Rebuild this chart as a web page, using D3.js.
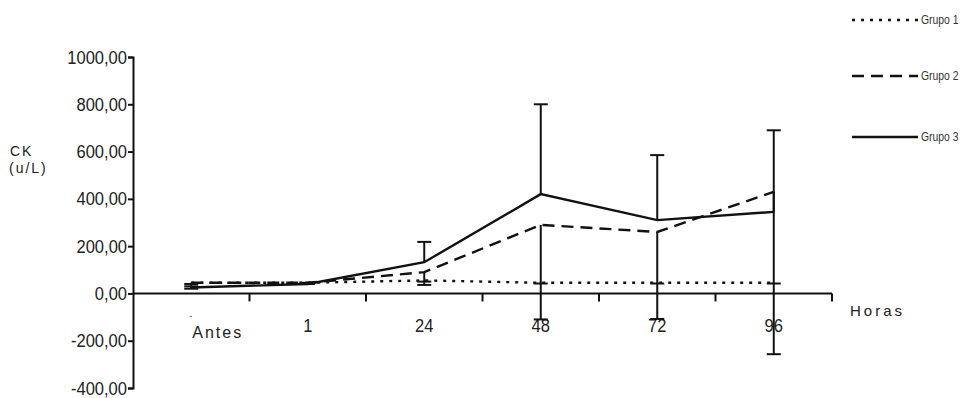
<!DOCTYPE html>
<html>
<head>
<meta charset="utf-8">
<script src="https://cdn.jsdelivr.net/npm/d3@7"></script>
<style>
  body { margin: 0; background: #fff; }
  svg { display: block; }
</style>
</head>
<body>
<div id="chart"></div>
<script>
const categories = ["Antes", "1", "24", "48", "72", "96"];
const yTicks = [-400, -200, 0, 200, 400, 600, 800, 1000];

const grupo1 = [45, 45, 55, 45, 45, 45];
const grupo2 = [45, 45, 90, 290, 260, 430];
const grupo3 = [25, 40, 132, 420, 310, 345];

// error bars as drawn: grupo 3 upward, grupo 2 downward, grupo 1 tiny
const grupo3Upper = [30, 45, 218, 800, 585, 690];
const grupo2Lower = [20, 40, 36, -110, -108, -257];
const grupo1Lower = [40, 42, 50, 42, 42, 42];

const series = [
  { name: "Grupo 1", values: grupo1, dash: "3,6" },
  { name: "Grupo 2", values: grupo2, dash: "12,7" },
  { name: "Grupo 3", values: grupo3, dash: null },
];

const W = 963, H = 398;
const sans = "'Liberation Sans', Arial, sans-serif";
const squeeze = 0.87; // tick fonts in the original are condensed

const svg = d3.select("#chart").append("svg")
  .attr("width", W)
  .attr("height", H);

const x = d3.scaleBand().domain(categories).range([133, 832]);
const y = d3.scaleLinear().domain([-400, 1000]).range([388, 57]);
const cx = (d) => x(d) + x.bandwidth() / 2;

// Y-axis
const yAxis = svg.append("g")
  .attr("transform", "translate(133,0)")
  .call(d3.axisLeft(y).tickValues(yTicks).tickSize(5).tickPadding(2)
    .tickFormat((d) => d3.format(".2f")(d).replace(".", ",").replace("\u2212", "-")));
yAxis.select(".domain").attr("stroke", "#111").attr("stroke-width", 2);
yAxis.selectAll(".tick line").attr("stroke", "#111").attr("stroke-width", 2);
yAxis.selectAll("text")
  .attr("x", -6 / squeeze)
  .attr("transform", `scale(${squeeze},1)`)
  .attr("fill", "#222")
  .style("font-family", sans)
  .style("font-size", "19px");

// X-axis at zero, ticks on band edges
const xg = svg.append("g").attr("transform", `translate(0,${y(0)})`);
xg.append("line")
  .attr("x1", 133).attr("x2", 832)
  .attr("stroke", "#111").attr("stroke-width", 2);
xg.selectAll(".xtick")
  .data(categories)
  .enter()
  .append("line")
  .attr("class", "xtick")
  .attr("x1", (d) => x(d) + x.bandwidth())
  .attr("x2", (d) => x(d) + x.bandwidth())
  .attr("y1", 0).attr("y2", 8)
  .attr("stroke", "#111").attr("stroke-width", 2);

// category labels
svg.selectAll(".xlabel")
  .data(categories.slice(1))
  .enter()
  .append("text")
  .attr("class", "xlabel")
  .attr("transform", `scale(${squeeze},1)`)
  .attr("x", (d) => cx(d) / squeeze)
  .attr("y", 332)
  .attr("text-anchor", "middle")
  .attr("fill", "#222")
  .style("font-family", sans)
  .style("font-size", "19px")
  .text((d) => d);

svg.append("text")
  .attr("x", cx("Antes") + 1)
  .attr("y", 338)
  .attr("fill", "#222")
  .style("font-family", sans)
  .style("font-size", "16px")
  .style("letter-spacing", "2px")
  .text(categories[0]);
svg.append("text")
  .attr("x", cx("Antes") - 2)
  .attr("y", 319)
  .attr("fill", "#444")
  .style("font-family", sans)
  .style("font-size", "9px")
  .text("-");

// Error bars
const capW = 14;
function errorBars(means, ends) {
  const g = svg.append("g");
  categories.forEach((c, i) => {
    g.append("line")
      .attr("x1", cx(c)).attr("x2", cx(c))
      .attr("y1", y(means[i])).attr("y2", y(ends[i]))
      .attr("stroke", "#111").attr("stroke-width", 2);
    g.append("line")
      .attr("x1", cx(c) - capW / 2).attr("x2", cx(c) + capW / 2)
      .attr("y1", y(ends[i])).attr("y2", y(ends[i]))
      .attr("stroke", "#111").attr("stroke-width", 2);
  });
}
errorBars(grupo3, grupo3Upper);
errorBars(grupo2, grupo2Lower);
errorBars(grupo1, grupo1Lower);

// Lines
const line = d3.line()
  .x((d, i) => cx(categories[i]))
  .y((d) => y(d));

svg.selectAll(".serie")
  .data(series)
  .enter()
  .append("path")
  .attr("class", "serie")
  .attr("d", (d) => line(d.values))
  .attr("fill", "none")
  .attr("stroke", "#111")
  .attr("stroke-width", 2.4)
  .attr("stroke-dasharray", (d) => d.dash);

// Axis titles
svg.append("text")
  .attr("x", 10).attr("y", 156)
  .attr("fill", "#222")
  .style("font-family", sans)
  .style("font-size", "14px")
  .style("letter-spacing", "2px")
  .text("CK");
svg.append("text")
  .attr("x", 9).attr("y", 173)
  .attr("fill", "#222")
  .style("font-family", sans)
  .style("font-size", "14px")
  .style("letter-spacing", "2px")
  .text("(u/L)");
svg.append("text")
  .attr("x", 850).attr("y", 316)
  .attr("fill", "#222")
  .style("font-family", sans)
  .style("font-size", "15px")
  .style("letter-spacing", "3px")
  .text("Horas");

// Legend
const legendY = [20, 76, 137];
const legend = svg.selectAll(".legend")
  .data(series)
  .enter()
  .append("g")
  .attr("class", "legend")
  .attr("transform", (d, i) => `translate(852,${legendY[i]})`);
legend.append("line")
  .attr("x1", 0).attr("x2", 66)
  .attr("stroke", "#111")
  .attr("stroke-width", 2.4)
  .attr("stroke-dasharray", (d) => d.dash);
legend.append("text")
  .attr("transform", "translate(69,4) scale(0.8,1)")
  .attr("fill", "#333")
  .style("font-family", sans)
  .style("font-size", "13px")
  .text((d) => d.name);
</script>
</body>
</html>
